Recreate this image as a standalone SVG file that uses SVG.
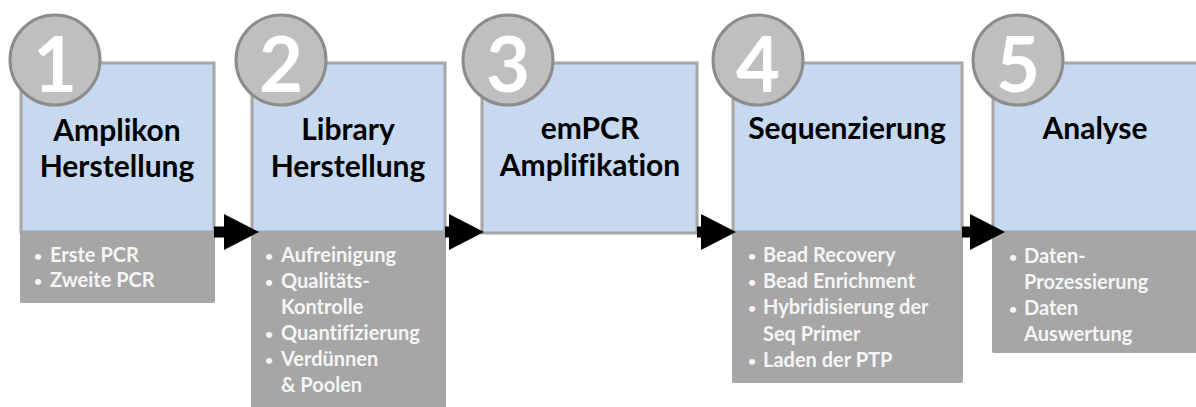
<svg xmlns="http://www.w3.org/2000/svg" width="1196" height="407" viewBox="0 0 1196 407">
<defs>
<style>
text{font-variant-ligatures:none}
.blue{fill:#c6d9f1;stroke:#a6a6a6;stroke-width:3}
.grey{fill:#a6a6a6}
.circ{fill:#bfbfbf;stroke:#8c8c8c;stroke-width:3}
.num{font-family:Lato,"Liberation Sans",sans-serif;font-weight:700;font-size:76px;fill:#ffffff;text-anchor:middle}
.title{font-family:Lato,"Liberation Sans",sans-serif;font-weight:700;font-size:30px;fill:#000000;text-anchor:middle}
.item{font-family:Lato,"Liberation Sans",sans-serif;font-weight:700;font-size:20px;fill:#f5f5f5}
.bul{font-family:Lato,"Liberation Sans",sans-serif;font-weight:700;font-size:14px;fill:#f5f5f5}
.conn{stroke:#000000;stroke-width:11;fill:none}
</style>
<marker id="ah" markerWidth="36" markerHeight="36" refX="0" refY="18" orient="auto" markerUnits="userSpaceOnUse">
<path d="M0,0 L35,18 L0,36 Z" fill="#000000"/>
</marker>
</defs>
<rect width="1196" height="407" fill="#ffffff"/>

<g id="step1">
<rect class="blue" x="21" y="63" width="193" height="169"/>
<rect class="grey" x="20" y="232" width="195" height="71" rx="2"/>
<circle class="circ" cx="55" cy="60" r="45"/>
<text class="num" x="55" y="92">1</text>
<text class="title" x="117" y="141">Amplikon</text>
<text class="title" x="117" y="177">Herstellung</text>
<text class="bul" x="34" y="261">•</text>
<text class="item" x="50" y="262">Erste PCR</text>
<text class="bul" x="34" y="286">•</text>
<text class="item" x="50" y="287">Zweite PCR</text>
</g>

<g id="step2">
<rect class="blue" x="252" y="63" width="193" height="169"/>
<rect class="grey" x="251" y="232" width="195" height="180"/>
<circle class="circ" cx="281" cy="60" r="45"/>
<text class="num" x="281" y="92">2</text>
<text class="title" x="348" y="140">Library</text>
<text class="title" x="348" y="177">Herstellung</text>
<text class="bul" x="265" y="261">•</text>
<text class="item" x="281" y="262">Aufreinigung</text>
<text class="bul" x="265" y="287">•</text>
<text class="item" x="281" y="288">Qualitäts-</text>
<text class="item" x="281" y="314">Kontrolle</text>
<text class="bul" x="265" y="339">•</text>
<text class="item" x="281" y="340">Quantifizierung</text>
<text class="bul" x="265" y="365">•</text>
<text class="item" x="281" y="366">Verdünnen</text>
<text class="item" x="281" y="392">&amp; Poolen</text>
</g>

<g id="step3">
<rect class="blue" x="482" y="63" width="215" height="170"/>
<circle class="circ" cx="508" cy="60" r="45"/>
<text class="num" x="508" y="92">3</text>
<text class="title" x="590" y="139">emPCR</text>
<text class="title" x="590" y="176">Amplifikation</text>
</g>

<g id="step4">
<rect class="blue" x="733" y="63" width="229" height="169"/>
<rect class="grey" x="732" y="232" width="231" height="151" rx="2"/>
<circle class="circ" cx="758" cy="60" r="45"/>
<text class="num" x="758" y="92">4</text>
<text class="title" x="847" y="139">Sequenzierung</text>
<text class="bul" x="748" y="261">•</text>
<text class="item" x="763" y="262">Bead Recovery</text>
<text class="bul" x="748" y="287">•</text>
<text class="item" x="763" y="288">Bead Enrichment</text>
<text class="bul" x="748" y="313">•</text>
<text class="item" x="763" y="314">Hybridisierung der</text>
<text class="item" x="763" y="341">Seq Primer</text>
<text class="bul" x="748" y="366">•</text>
<text class="item" x="763" y="367">Laden der PTP</text>
</g>

<g id="step5">
<rect class="blue" x="993" y="63" width="206" height="169"/>
<rect class="grey" x="992" y="232" width="208" height="121" rx="2"/>
<circle class="circ" cx="1018" cy="60" r="45"/>
<text class="num" x="1018" y="92">5</text>
<text class="title" x="1095" y="139">Analyse</text>
<text class="bul" x="1009" y="262">•</text>
<text class="item" x="1024" y="263">Daten-</text>
<text class="item" x="1024" y="289">Prozessierung</text>
<text class="bul" x="1009" y="314">•</text>
<text class="item" x="1024" y="315">Daten</text>
<text class="item" x="1024" y="341">Auswertung</text>
</g>

<g id="connectors">
<line class="conn" x1="214" y1="232" x2="224" y2="232" marker-end="url(#ah)"/>
<line class="conn" x1="445" y1="232" x2="449" y2="232" marker-end="url(#ah)"/>
<line class="conn" x1="697" y1="232" x2="701" y2="232" marker-end="url(#ah)"/>
<line class="conn" x1="962" y1="232" x2="970" y2="232" marker-end="url(#ah)"/>
</g>
</svg>
